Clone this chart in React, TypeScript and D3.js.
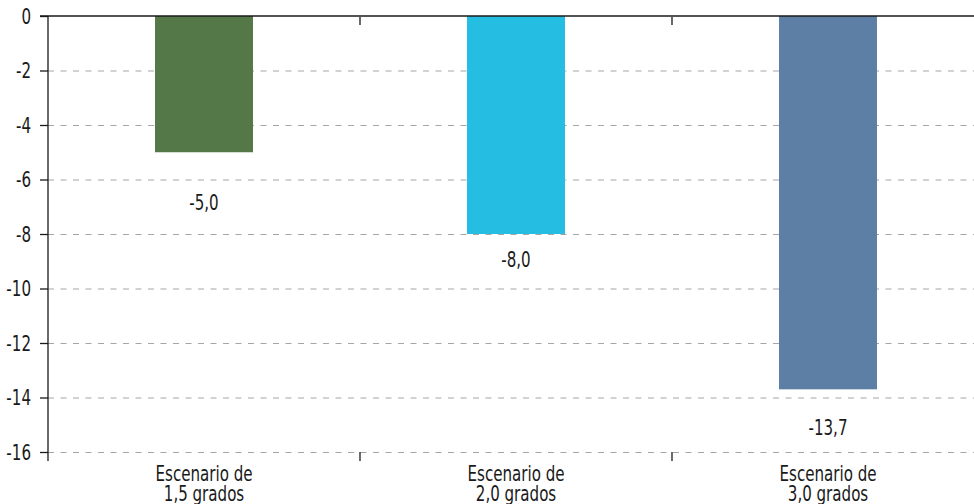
import React, { useEffect, useRef } from "react";
import * as d3 from "d3";

const categories = ["Escenario de|1,5 grados", "Escenario de|2,0 grados", "Escenario de|3,0 grados"];
const values = [-5.0, -8.0, -13.7];
const barColors = ["#557849", "#26BDE2", "#5D7FA6"];
const yTicks = [0, -2, -4, -6, -8, -10, -12, -14, -16];
// the value labels sit at hand-picked distances under each bar (px)
const labelNudge = [50, 25, 38];

const W = 974;
const H = 504;
const margin = { top: 16, left: 48, bottom: 52 };
const FONT = "'DejaVu Sans Condensed', 'Liberation Sans Narrow', 'Roboto', sans-serif";
const FS = 21.5;
const SQUEEZE = 0.78; // fake a narrower condensed face

const locale = d3.formatLocale({ decimal: ",", thousands: ".", grouping: [3], currency: ["", "€"], minus: "-" });
const fmt1 = locale.format(".1f");
const fmt0 = locale.format("d");

type Sel = d3.Selection<SVGGElement, unknown, null, undefined>;

function squeezedText(parent: Sel, x: number, y: number, txt: string, anchor: string) {
  parent
    .append("g")
    .attr("transform", `translate(${x},${y}) scale(${SQUEEZE},1)`)
    .append("text")
    .attr("text-anchor", anchor)
    .attr("font-family", FONT)
    .attr("font-size", FS)
    .attr("fill", "#1a1a1a")
    .text(txt);
}

export default function App() {
  const svgRef = useRef<SVGSVGElement>(null);

  useEffect(() => {
    if (!svgRef.current) return;
    const svg = d3.select(svgRef.current);
    svg.selectAll("*").remove();

    // plot runs a little past the right edge, like the original export
    const x = d3.scaleBand<string>().domain(categories).range([margin.left, 984]).paddingInner(0).paddingOuter(0);
    const xBar = d3.scaleBand<string>().domain(categories).range([margin.left, 984]).paddingInner(0.686).paddingOuter(0.343);
    const y = d3.scaleLinear().domain([0, -16]).range([margin.top, H - margin.bottom]);

    // gridlines
    svg.append("g")
      .selectAll("line")
      .data(yTicks.filter((d) => d !== 0))
      .join("line")
      .attr("x1", margin.left)
      .attr("x2", W)
      .attr("y1", (d) => y(d) + 0.5)
      .attr("y2", (d) => y(d) + 0.5)
      .attr("stroke", "#a6a6a6")
      .attr("stroke-width", 1.2)
      .attr("stroke-dasharray", "6,6.5");

    // bars
    svg.append("g")
      .selectAll("rect")
      .data(values)
      .join("rect")
      .attr("x", (_, i) => xBar(categories[i])!)
      .attr("width", xBar.bandwidth())
      .attr("y", y(0))
      .attr("height", (d) => y(d) - y(0))
      .attr("fill", (_, i) => barColors[i]);

    // value labels
    const lab = svg.append("g") as Sel;
    values.forEach((v, i) => {
      squeezedText(lab, xBar(categories[i])! + xBar.bandwidth() / 2, y(v) + labelNudge[i] + 7.5, fmt1(v), "middle");
    });

    // y axis
    const yAxis = svg.append("g") as Sel;
    yAxis.append("line")
      .attr("x1", margin.left).attr("x2", margin.left)
      .attr("y1", y(0)).attr("y2", y(-16) + 9)
      .attr("stroke", "#1a1a1a").attr("stroke-width", 1.3);
    yAxis.selectAll("line.tick")
      .data(yTicks)
      .join("line")
      .attr("class", "tick")
      .attr("x1", 40).attr("x2", margin.left)
      .attr("y1", (d) => y(d) + 0.5).attr("y2", (d) => y(d) + 0.5)
      .attr("stroke", "#1a1a1a").attr("stroke-width", 1.3);
    yTicks.forEach((t) => squeezedText(yAxis, 31, y(t) + 7.5, fmt0(t), "end"));

    // zero line on top with category ticks
    svg.append("line")
      .attr("x1", 40).attr("x2", W)
      .attr("y1", y(0)).attr("y2", y(0))
      .attr("stroke", "#1a1a1a").attr("stroke-width", 1.6);

    const bounds = categories.slice(1).map((c) => x(c)!);
    svg.append("g")
      .selectAll("line")
      .data(bounds)
      .join("line")
      .attr("x1", (d) => d).attr("x2", (d) => d)
      .attr("y1", y(0) + 1).attr("y2", y(0) + 9)
      .attr("stroke", "#1a1a1a").attr("stroke-width", 1.3);

    // bottom category ticks
    svg.append("g")
      .selectAll("line")
      .data(bounds)
      .join("line")
      .attr("x1", (d) => d).attr("x2", (d) => d)
      .attr("y1", y(-16)).attr("y2", y(-16) + 9)
      .attr("stroke", "#1a1a1a").attr("stroke-width", 1.3);

    // category labels, two lines each
    const cat = svg.append("g") as Sel;
    categories.forEach((c) => {
      const cx = x(c)! + x.bandwidth() / 2;
      c.split("|").forEach((line, j) => squeezedText(cat, cx, y(-16) + 29 + j * 20, line, "middle"));
    });
  }, []);

  return (
    <svg
      ref={svgRef}
      width={W}
      height={H}
      style={{ position: "absolute", left: 0, top: 0, background: "#fff" }}
    />
  );
}
